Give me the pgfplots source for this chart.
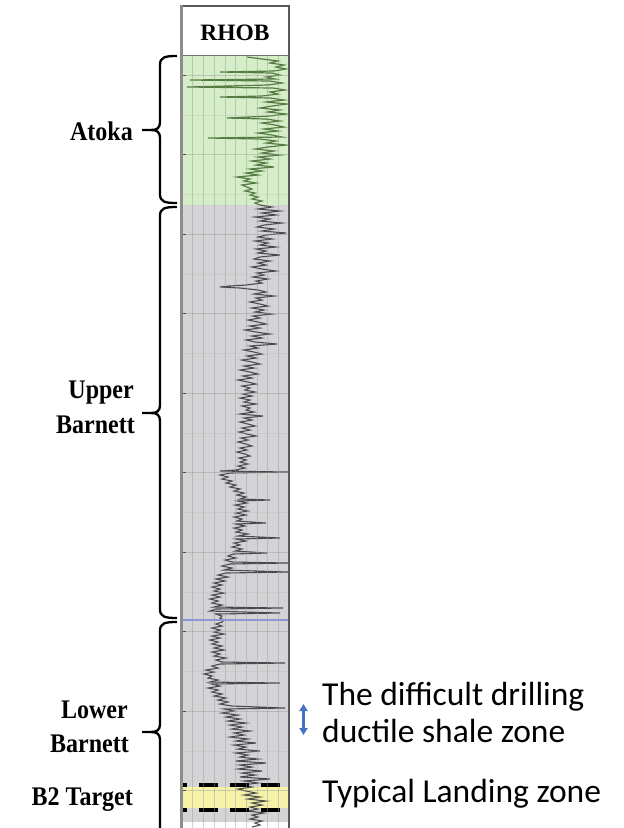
\documentclass[border=0pt]{standalone}
\usepackage{fontspec}
\setmainfont{Liberation Serif}
\newfontfamily\calfont{Carlito}
\usepackage{pgfplots}
\pgfplotsset{compat=1.18}
\usetikzlibrary{arrows.meta}
\definecolor{tgreen}{RGB}{214,238,200}
\definecolor{tgray}{RGB}{212,212,215}
\definecolor{tyellow}{RGB}{246,243,168}
\definecolor{cgreen}{RGB}{70,112,52}
\definecolor{cgray}{RGB}{58,58,62}
\definecolor{tblue}{RGB}{140,150,212}
\definecolor{arrblue}{RGB}{68,114,196}
\newcommand{\brc}[3]{%
  \draw[line width=2.3bp] (177,#1) .. controls (165,#1) and (160,{#1+1}) .. (160,{#1+9}) -- (160,{#2-8}) .. controls (160,{#2-2}) and (157,#2) .. (151,#2) -- (142,#2);
  \draw[line width=2.3bp] (151,#2) .. controls (157,#2) and (160,{#2+2}) .. (160,{#2+8}) -- (160,{#3-9}) .. controls (160,{#3-1}) and (165,#3) .. (177,#3);}
\newcommand{\lab}[1]{\scalebox{1}[1.12]{\fontsize{24bp}{28bp}\selectfont\bfseries #1}}
\begin{document}
\begin{tikzpicture}[x=1bp,y=-1bp]
\useasboundingbox (0,0) rectangle (624,828);
\coordinate (A) at (182,55);
\begin{axis}[at={(A)}, anchor=north west, scale only axis,
  width=107bp, height=773bp,
  xmin=1.82, xmax=2.89, ymin=55, ymax=828, y dir=reverse,
  axis on top, axis line style={draw=none},
  xtick={1.927,2.034,2.141,2.248,2.355,2.462,2.569,2.676,2.783},
  xticklabels={}, yticklabels={},
  ytick={75,154.5,234,313.5,393,472.5,552,631.5,711,790.5},
  minor ytick={114.75,194.25,273.75,353.25,432.75,512.25,591.75,671.25,750.75},
  xmajorgrids, ymajorgrids, yminorgrids,
  major grid style={black!40, opacity=0.45, line width=0.5bp},
  minor grid style={black!30, opacity=0.25, line width=0.4bp},
  xtick style={draw=none}, minor tick length=0pt,
  ytick style={black!70, line width=0.8bp}, ytick pos=left, tick align=inside,
  major tick length=4bp]
% zones
\addplot[fill=tgreen, draw=none] coordinates {(1.82,55) (2.89,55) (2.89,205) (1.82,205)} \closedcycle;
\addplot[fill=tgray, draw=none] coordinates {(1.82,205) (2.89,205) (2.89,822) (1.82,822)} \closedcycle;
\addplot[fill=tyellow, draw=none] coordinates {(1.82,787) (2.89,787) (2.89,808) (1.82,808)} \closedcycle;
% RHOB curve, Atoka
\addplot[cgreen, line width=1.2bp, opacity=0.9] table {
r d
2.47 57
2.62 59
2.78 61
2.70 63
2.84 65
2.76 67
2.86 69
2.74 71
2.20 72
2.72 73
2.80 75
2.66 77
2.75 79
1.90 80
2.70 81
2.82 83
2.68 85
1.87 87
2.73 88
2.85 90
2.70 92
2.78 94
2.62 96
2.20 97
2.70 98
2.84 100
2.66 102
2.87 104
2.72 106
2.60 108
2.80 110
2.68 112
2.86 114
2.70 116
2.27 118
2.66 119
2.80 121
2.62 123
2.75 125
2.84 127
2.64 129
2.78 131
2.58 133
2.72 135
2.82 137
2.08 138
2.60 139
2.76 141
2.66 143
2.86 145
2.68 147
2.55 149
2.74 151
2.62 153
2.80 155
2.58 157
2.70 159
2.52 161
2.66 163
2.56 165
2.74 167
2.50 169
2.62 171
2.46 173
2.58 175
2.37 177
2.50 179
2.44 181
2.56 183
2.42 185
2.47 187
2.52 189
2.45 191
2.55 193
2.50 195
2.58 197
2.52 199
2.62 201
2.55 203
2.60 205
};
% RHOB curve, Barnett
\addplot[cgray, line width=1.1bp, opacity=0.9] table {
r d
2.60 205
2.72 207
2.58 209
2.80 211
2.62 213
2.76 215
2.55 217
2.70 219
2.60 221
2.82 223
2.64 225
2.57 227
2.74 229
2.62 231
2.86 233
2.66 235
2.58 237
2.72 239
2.55 241
2.68 243
2.60 245
2.76 247
2.56 249
2.66 251
2.58 253
2.80 255
2.60 257
2.54 259
2.70 261
2.58 263
2.66 265
2.52 267
2.62 269
2.76 271
2.57 273
2.64 275
2.53 277
2.68 279
2.56 281
2.62 283
2.46 285
2.30 286
2.20 287
2.40 288
2.58 290
2.66 292
2.54 294
2.74 296
2.56 298
2.62 300
2.50 302
2.60 304
2.68 306
2.52 308
2.64 310
2.55 312
2.72 314
2.53 316
2.60 318
2.48 320
2.58 322
2.66 324
2.50 326
2.60 328
2.45 330
2.56 332
2.70 334
2.52 336
2.62 338
2.46 340
2.55 342
2.77 344
2.50 346
2.58 348
2.44 350
2.54 352
2.62 354
2.47 356
2.56 358
2.42 360
2.52 362
2.60 364
2.44 366
2.54 368
2.40 370
2.50 372
2.58 374
2.43 376
2.52 378
2.38 380
2.48 382
2.56 384
2.42 386
2.50 388
2.45 390
2.55 392
2.43 394
2.52 396
2.40 398
2.50 400
2.44 402
2.56 404
2.42 406
2.50 408
2.46 410
2.54 412
2.40 414
2.63 416
2.44 418
2.52 420
2.40 422
2.48 424
2.55 426
2.42 428
2.50 430
2.39 432
2.47 434
2.56 436
2.41 438
2.48 440
2.38 442
2.46 444
2.52 446
2.40 448
2.47 450
2.37 452
2.45 454
2.50 456
2.39 458
2.46 460
2.40 462
2.48 464
2.38 466
2.45 468
2.36 470
2.20 471
2.88 472
2.30 473
2.20 475
2.28 477
2.22 479
2.32 481
2.26 483
2.36 485
2.30 487
2.40 489
2.34 491
2.44 493
2.37 495
2.46 497
2.40 499
2.70 500
2.38 501
2.47 503
2.35 505
2.44 507
2.38 509
2.48 511
2.36 513
2.46 515
2.34 517
2.42 519
2.37 521
2.66 523
2.36 524
2.45 526
2.34 528
2.42 530
2.36 532
2.48 534
2.38 536
2.80 538
2.36 539
2.46 541
2.34 543
2.40 545
2.32 547
2.42 549
2.35 551
2.67 553
2.33 554
2.28 556
2.36 558
2.25 560
2.32 562
2.88 563
2.30 564
2.22 566
2.32 568
2.24 570
2.88 572
2.26 573
2.18 575
2.28 577
2.16 579
2.25 581
2.14 583
2.22 585
2.12 587
2.20 589
2.14 591
2.24 593
2.12 595
2.20 597
2.10 599
2.18 601
2.12 603
2.22 605
2.14 607
2.83 608
2.16 609
2.10 611
2.80 613
2.16 614
2.22 616
2.20 618
2.24 620
2.22 622
2.16 624
2.22 626
2.12 628
2.20 630
2.14 632
2.24 634
2.12 636
2.20 638
2.10 640
2.18 642
2.12 644
2.22 646
2.14 648
2.24 650
2.12 652
2.20 654
2.14 656
2.26 658
2.16 660
2.22 662
2.85 663
2.20 664
2.12 666
2.18 668
2.06 670
2.14 672
2.04 674
2.12 676
2.08 678
2.18 680
2.10 682
2.80 683
2.12 684
2.20 686
2.08 688
2.18 690
2.12 692
2.22 694
2.14 696
2.26 698
2.18 700
2.28 702
2.20 704
2.32 706
2.85 708
2.24 709
2.34 711
2.22 713
2.38 715
2.26 717
2.40 719
2.28 721
2.46 723
2.30 725
2.42 727
2.32 729
2.50 731
2.34 733
2.44 735
2.30 737
2.48 739
2.36 741
2.56 743
2.34 745
2.46 747
2.38 749
2.60 751
2.36 753
2.48 755
2.40 757
2.58 759
2.36 761
2.66 763
2.40 765
2.52 767
2.38 769
2.62 771
2.42 773
2.55 775
2.40 777
2.70 779
2.44 781
2.58 783
2.42 785
2.52 787
2.38 789
2.46 791
2.56 793
2.44 795
2.60 797
2.48 799
2.66 801
2.52 803
2.62 805
2.50 807
2.58 809
2.48 811
2.64 813
2.52 815
2.58 817
2.50 819
2.62 821
2.55 823
2.60 825
2.52 827
};
% formation line and landing zone bounds
\addplot[tblue, line width=1.3bp] coordinates {(1.82,620) (2.89,620)};
\addplot[black, line width=4bp, dash pattern=on 19bp off 12bp, dash phase=14bp] coordinates {(1.82,785) (2.89,785)};
\addplot[black, line width=4bp, dash pattern=on 19bp off 12bp, dash phase=14bp] coordinates {(1.82,810) (2.89,810)};
\end{axis}
% track borders and header
\fill[white] (182,6) rectangle (289,55);
\draw[black!65, line width=1.2bp] (182,6) -- (289,6) -- (289,828);
\draw[black!55, line width=1bp] (182,55) -- (289,55);
\draw[black!45, line width=3bp] (181,5) -- (181,828);
\node[anchor=base] at (235,40.5) {\fontsize{23.5bp}{26bp}\selectfont\bfseries RHOB};
% braces
\brc{56}{130}{203}
\brc{207}{413}{618}
\brc{622}{732}{860}
% formation labels
\node[anchor=base east, inner sep=0] at (133,140) {\lab{Atoka}};
\node[anchor=base east, inner sep=0] at (134,398) {\lab{Upper}};
\node[anchor=base east, inner sep=0] at (135,433) {\lab{Barnett}};
\node[anchor=base east, inner sep=0] at (128,718) {\lab{Lower}};
\node[anchor=base east, inner sep=0] at (129,752) {\lab{Barnett}};
\node[anchor=base east, inner sep=0] at (133,805) {\lab{B2 Target}};
% annotations
\draw[arrblue, line width=2.4bp, {Triangle[length=7bp,width=8bp]}-{Triangle[length=7bp,width=8bp]}] (303.5,704) -- (303.5,735);
\node[anchor=base west, inner sep=0] at (322,705) {\calfont\fontsize{33.5bp}{38bp}\selectfont The difficult drilling};
\node[anchor=base west, inner sep=0] at (322,742) {\calfont\fontsize{33.5bp}{38bp}\selectfont ductile shale zone};
\node[anchor=base west, inner sep=0] at (322,802) {\calfont\fontsize{33.5bp}{38bp}\selectfont Typical Landing zone};
\end{tikzpicture}
\end{document}
